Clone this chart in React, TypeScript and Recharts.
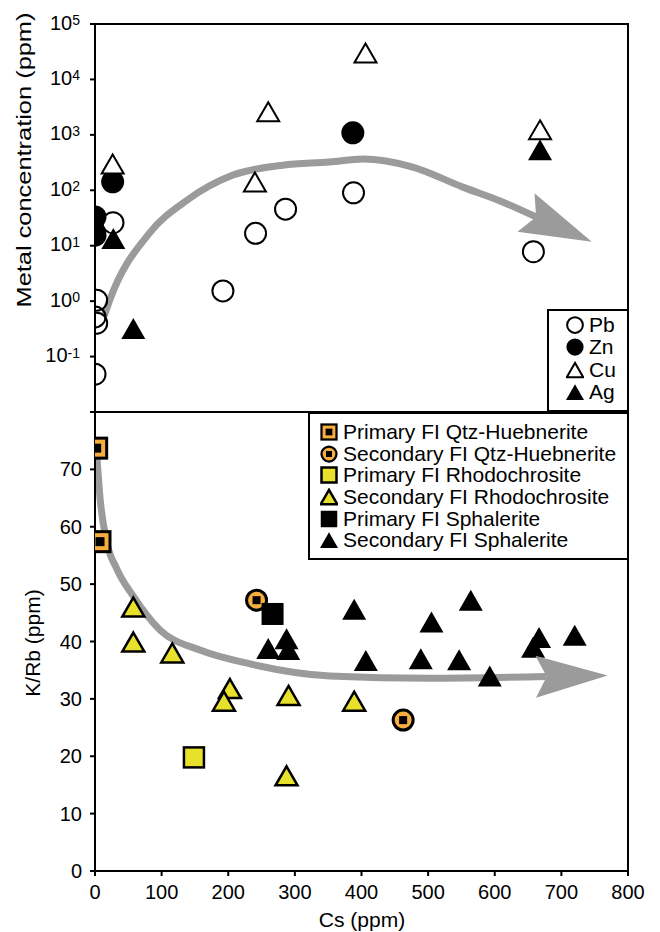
import React from "react";
import { ComposedChart, Scatter, Line, XAxis, YAxis, ReferenceArea, Legend } from "recharts";

const FONT = "'Liberation Sans', Arial, Helvetica, sans-serif";
const ORANGE = "#f6ae3f";
const YELLOW = "#e8e12c";
const GREY = "#9b9b9b";
const AXIS = { stroke: "#000", strokeWidth: 2 };

// ---- top panel: metal concentration (ppm, log) vs Cs (ppm)
const pbData = [
  { x: 0, y: 0.048 }, { x: 2.5, y: 1.04 }, { x: 0, y: 0.52 }, { x: 2.5, y: 0.4 },
  { x: 27, y: 26 }, { x: 192, y: 1.53 }, { x: 241, y: 16.7 }, { x: 286, y: 45.7 },
  { x: 388, y: 90 }, { x: 658, y: 7.8 },
];
const znData = [{ x: 0, y: 33 }, { x: 0, y: 15.5 }, { x: 26.5, y: 142 }, { x: 387, y: 1090 }];
const cuData = [
  { x: 26.5, y: 297 }, { x: 260, y: 2620 }, { x: 240, y: 141 }, { x: 406, y: 30000 }, { x: 668, y: 1230 },
];
const agData = [{ x: 27.5, y: 13.5 }, { x: 57.5, y: 0.32 }, { x: 668, y: 537 }];
// hand-drawn trend arrow (ends at the arrowhead notch)
const metalTrend = [
  { x: 14, y: 0.55 }, { x: 22, y: 1.04 }, { x: 82, y: 17 }, { x: 138, y: 66 }, { x: 207, y: 188 },
  { x: 282, y: 284 }, { x: 352, y: 323 }, { x: 402, y: 366 }, { x: 477, y: 262 }, { x: 552, y: 114 },
  { x: 607, y: 65 }, { x: 662, y: 33 },
];
const TOP_TICKS = [0.1, 1, 10, 100, 1000, 10000, 100000];

// ---- bottom panel: K/Rb vs Cs (ppm)
const priQtzHueb = [{ x: 2.5, y: 73.7 }, { x: 7.5, y: 57.4 }];
const secQtzHueb = [{ x: 242.5, y: 47.2 }, { x: 462.5, y: 26.3 }];
const priRhodo = [{ x: 148.5, y: 19.8 }];
const secRhodo = [
  { x: 57.5, y: 46.0 }, { x: 57.5, y: 39.9 }, { x: 116, y: 38.0 }, { x: 202.5, y: 31.8 },
  { x: 193.5, y: 29.6 }, { x: 290.5, y: 30.6 }, { x: 287.5, y: 16.6 }, { x: 389, y: 29.6 },
];
const priSphal = [{ x: 266.5, y: 44.8 }];
const secSphal = [
  { x: 260, y: 38.8 }, { x: 287.5, y: 40.5 }, { x: 290, y: 38.6 }, { x: 389, y: 45.6 },
  { x: 406.5, y: 36.7 }, { x: 505, y: 43.4 }, { x: 489, y: 37.0 }, { x: 564, y: 47.2 },
  { x: 546.5, y: 36.8 }, { x: 592.5, y: 34.0 }, { x: 657.5, y: 39.0 }, { x: 666.5, y: 40.7 },
  { x: 720, y: 41.1 },
];
const krbTrend = [
  { x: 3, y: 72 }, { x: 7.5, y: 65.1 }, { x: 17.5, y: 57.4 }, { x: 32.5, y: 52.7 }, { x: 57.5, y: 47.9 },
  { x: 97.5, y: 42.0 }, { x: 157.5, y: 38.5 }, { x: 232.5, y: 36.1 }, { x: 352.5, y: 34.0 },
  { x: 502.5, y: 33.6 }, { x: 678, y: 33.9 },
];
const KRB_TICKS = [0, 10, 20, 30, 40, 50, 60, 70, 80];
const CS_TICKS = [0, 100, 200, 300, 400, 500, 600, 700, 800];

const metalLegend = [
  { name: "Pb", kind: "openCircle" },
  { name: "Zn", kind: "dot" },
  { name: "Cu", kind: "openTri" },
  { name: "Ag", kind: "tri" },
];
const fiLegend = [
  { name: "Primary FI Qtz-Huebnerite", kind: "orangeSquare" },
  { name: "Secondary FI Qtz-Huebnerite", kind: "orangeCircle" },
  { name: "Primary FI Rhodochrosite", kind: "yellowSquare" },
  { name: "Secondary FI Rhodochrosite", kind: "yellowTri" },
  { name: "Primary FI Sphalerite", kind: "blackSquare" },
  { name: "Secondary FI Sphalerite", kind: "tri" },
];

const triPts = (cx: number, cy: number, w: number, h: number) =>
  `${cx},${cy - h / 2} ${cx + w / 2},${cy + h / 2} ${cx - w / 2},${cy + h / 2}`;

function Marker({ kind, cx, cy, s = 1 }: { kind: string; cx: number; cy: number; s?: number }) {
  switch (kind) {
    case "openCircle":
      return <circle cx={cx} cy={cy} r={10.5 * s} fill="none" stroke="#000" strokeWidth={2} />;
    case "dot":
      return <circle cx={cx} cy={cy} r={11.5 * s} fill="#000" />;
    case "openTri":
      return <polygon points={triPts(cx, cy, 22 * s, 19 * s)} fill="#fff" stroke="#000" strokeWidth={2} />;
    case "tri":
      return <polygon points={triPts(cx, cy, 24 * s, 21 * s)} fill="#000" />;
    case "orangeSquare":
      return (
        <g>
          <rect x={cx - 10 * s} y={cy - 10 * s} width={20 * s} height={20 * s} fill={ORANGE} stroke="#000" strokeWidth={3 * s} />
          <rect x={cx - 4.5 * s} y={cy - 4.5 * s} width={9 * s} height={9 * s} fill="#000" />
        </g>
      );
    case "orangeCircle":
      return (
        <g>
          <circle cx={cx} cy={cy} r={10 * s} fill={ORANGE} stroke="#000" strokeWidth={3 * s} />
          <rect x={cx - 4 * s} y={cy - 4 * s} width={8 * s} height={8 * s} fill="#000" />
        </g>
      );
    case "yellowSquare":
      return <rect x={cx - 10 * s} y={cy - 10 * s} width={20 * s} height={20 * s} fill={YELLOW} stroke="#000" strokeWidth={2.5} />;
    case "yellowTri":
      return <polygon points={triPts(cx, cy, 22 * s, 19 * s)} fill={YELLOW} stroke="#000" strokeWidth={2.5} />;
    case "blackSquare":
      return <rect x={cx - 11 * s} y={cy - 11 * s} width={22 * s} height={22 * s} fill="#000" />;
    default:
      return null;
  }
}

const shapeOf = (kind: string) => (p: any) => <Marker kind={kind} cx={p.cx} cy={p.cy} />;

// arrowhead drawn on the last point of the trend line
function makeArrowDot(count: number, fallbackDeg: number) {
  return (props: any) => {
    const { cx, cy, index, points } = props;
    const key = `arrow-${index}`;
    const n = points ? points.length : count;
    if (cx == null || cy == null || index !== n - 1) return <g key={key} />;
    let ux = Math.cos((fallbackDeg * Math.PI) / 180);
    let uy = Math.sin((fallbackDeg * Math.PI) / 180);
    if (points && n > 1) {
      const prev = points[n - 2];
      const dx = cx - prev.x, dy = cy - prev.y;
      const len = Math.hypot(dx, dy) || 1;
      ux = dx / len;
      uy = dy / len;
    }
    const L = 72, W = 42, notch = 11;
    const px = -uy, py = ux;
    const tx = cx + ux * (L - notch), ty = cy + uy * (L - notch);
    const bx = cx - ux * notch, by = cy - uy * notch;
    const pts = [
      [tx, ty],
      [bx + (px * W) / 2, by + (py * W) / 2],
      [cx, cy],
      [bx - (px * W) / 2, by - (py * W) / 2],
    ];
    return <polygon key={key} points={pts.map((q) => q.join(",")).join(" ")} fill={GREY} />;
  };
}

function PowTick(props: any) {
  const { x, y, payload } = props;
  const exp = Math.round(Math.log10(payload.value));
  return (
    <text x={x} y={y + 5.5} textAnchor="end" fontSize={20} fontFamily={FONT} fill="#000">
      10<tspan fontSize={14} dy={-4.5}>{exp}</tspan>
    </text>
  );
}

function KTick(props: any) {
  const { x, y, payload } = props;
  if (payload.value === 80) return <g />;
  return (
    <text x={x} y={y + 7} textAnchor="end" fontSize={20} fontFamily={FONT} fill="#000">
      {payload.value}
    </text>
  );
}

function XTick(props: any) {
  const { x, y, payload } = props;
  return (
    <text x={x} y={y + 21} textAnchor="middle" fontSize={20} fontFamily={FONT} fill="#000">
      {payload.value}
    </text>
  );
}

const MetalLabel = () => (
  <text
    x={31} y={160} transform="rotate(-90 31 160)" textAnchor="middle" fontSize={21}
    fontFamily={FONT} fill="#000" textLength={295} lengthAdjust="spacingAndGlyphs"
  >
    Metal concentration (ppm)
  </text>
);

const KLabel = () => (
  <text x={40} y={241} transform="rotate(-90 40 241)" textAnchor="middle" fontSize={21} fontFamily={FONT} fill="#000">
    K/Rb (ppm)
  </text>
);

const CsLabel = () => (
  <text x={362} y={525} textAnchor="middle" fontSize={21} fontFamily={FONT} fill="#000">
    Cs (ppm)
  </text>
);

function LegendBox({ items, padTop, padLeft, rowH }: { items: { name: string; kind: string }[]; padTop: number; padLeft: number; rowH: number }) {
  return (
    <div
      style={{
        width: "100%", height: "100%", boxSizing: "border-box", border: "2px solid #000",
        background: "#fff", paddingTop: padTop, paddingLeft: padLeft, fontFamily: FONT,
        fontSize: 21, color: "#000",
      }}
    >
      {items.map((it) => (
        <div key={it.name} style={{ display: "flex", alignItems: "center", height: rowH, lineHeight: `${rowH}px`, whiteSpace: "nowrap" }}>
          <svg width={18} height={18} style={{ marginRight: 5, flex: "none" }}>
            <Marker kind={it.kind} cx={9} cy={9} s={0.75} />
          </svg>
          <span>{it.name}</span>
        </div>
      ))}
    </div>
  );
}

export default function App() {
  return (
    <div style={{ position: "absolute", left: 0, top: 0, width: 660, height: 932, background: "#fff", fontFamily: FONT }}>
      <div style={{ position: "absolute", left: 0, top: 0 }}>
        <ComposedChart width={660} height={424} margin={{ top: 24, right: 32, bottom: 12, left: 0 }}>
          <XAxis type="number" dataKey="x" domain={[0, 800]} hide allowDataOverflow />
          <YAxis
            type="number" dataKey="y" scale="log" domain={[0.01, 100000]} allowDataOverflow
            ticks={TOP_TICKS} interval={0} width={95} tickSize={5} tickMargin={10}
            axisLine={AXIS} tickLine={AXIS} tick={<PowTick />} label={<MetalLabel />}
          />
          <ReferenceArea x1={0} x2={800} y1={0.01} y2={100000} fill="none" stroke="#000" strokeWidth={2} ifOverflow="visible" />
          <Line
            data={metalTrend} dataKey="y" type="monotone" stroke={GREY} strokeWidth={7}
            dot={makeArrowDot(metalTrend.length, 24)} activeDot={false} isAnimationActive={false} legendType="none"
          />
          <Scatter name="Pb" data={pbData} shape={shapeOf("openCircle")} isAnimationActive={false} />
          <Scatter name="Zn" data={znData} shape={shapeOf("dot")} isAnimationActive={false} />
          <Scatter name="Cu" data={cuData} shape={shapeOf("openTri")} isAnimationActive={false} />
          <Scatter name="Ag" data={agData} shape={shapeOf("tri")} isAnimationActive={false} />
          <Legend
            layout="horizontal" verticalAlign="middle" align="center"
            wrapperStyle={{ left: 547, top: 309, width: 82, height: 103 }}
            content={() => <LegendBox items={metalLegend} padTop={3} padLeft={17} rowH={22.3} />}
          />
        </ComposedChart>
      </div>
      <div style={{ position: "absolute", left: 0, top: 402 }}>
        <ComposedChart width={660} height={530} margin={{ top: 10, right: 32, bottom: 0, left: 0 }}>
          <XAxis
            type="number" dataKey="x" domain={[0, 800]} ticks={CS_TICKS} interval={0} height={61}
            tickSize={5} tickMargin={2} axisLine={AXIS} tickLine={AXIS} tick={<XTick />}
            label={<CsLabel />} allowDataOverflow
          />
          <YAxis
            type="number" dataKey="y" domain={[0, 80]} ticks={KRB_TICKS} interval={0} width={95}
            tickSize={5} tickMargin={8} axisLine={AXIS} tickLine={AXIS} tick={<KTick />}
            label={<KLabel />} allowDataOverflow
          />
          <ReferenceArea x1={0} x2={800} y1={0} y2={80} fill="none" stroke="#000" strokeWidth={2} ifOverflow="visible" />
          <Line
            data={krbTrend} dataKey="y" type="monotone" stroke={GREY} strokeWidth={7}
            dot={makeArrowDot(krbTrend.length, 0)} activeDot={false} isAnimationActive={false} legendType="none"
          />
          <Scatter name="Primary FI Qtz-Huebnerite" data={priQtzHueb} shape={shapeOf("orangeSquare")} isAnimationActive={false} />
          <Scatter name="Secondary FI Qtz-Huebnerite" data={secQtzHueb} shape={shapeOf("orangeCircle")} isAnimationActive={false} />
          <Scatter name="Primary FI Rhodochrosite" data={priRhodo} shape={shapeOf("yellowSquare")} isAnimationActive={false} />
          <Scatter name="Secondary FI Rhodochrosite" data={secRhodo} shape={shapeOf("yellowTri")} isAnimationActive={false} />
          <Scatter name="Primary FI Sphalerite" data={priSphal} shape={shapeOf("blackSquare")} isAnimationActive={false} />
          <Scatter name="Secondary FI Sphalerite" data={secSphal} shape={shapeOf("tri")} isAnimationActive={false} />
          <Legend
            layout="horizontal" verticalAlign="middle" align="center"
            wrapperStyle={{ left: 308, top: 10, width: 321, height: 148 }}
            content={() => <LegendBox items={fiLegend} padTop={7} padLeft={10} rowH={21.7} />}
          />
        </ComposedChart>
      </div>
    </div>
  );
}
